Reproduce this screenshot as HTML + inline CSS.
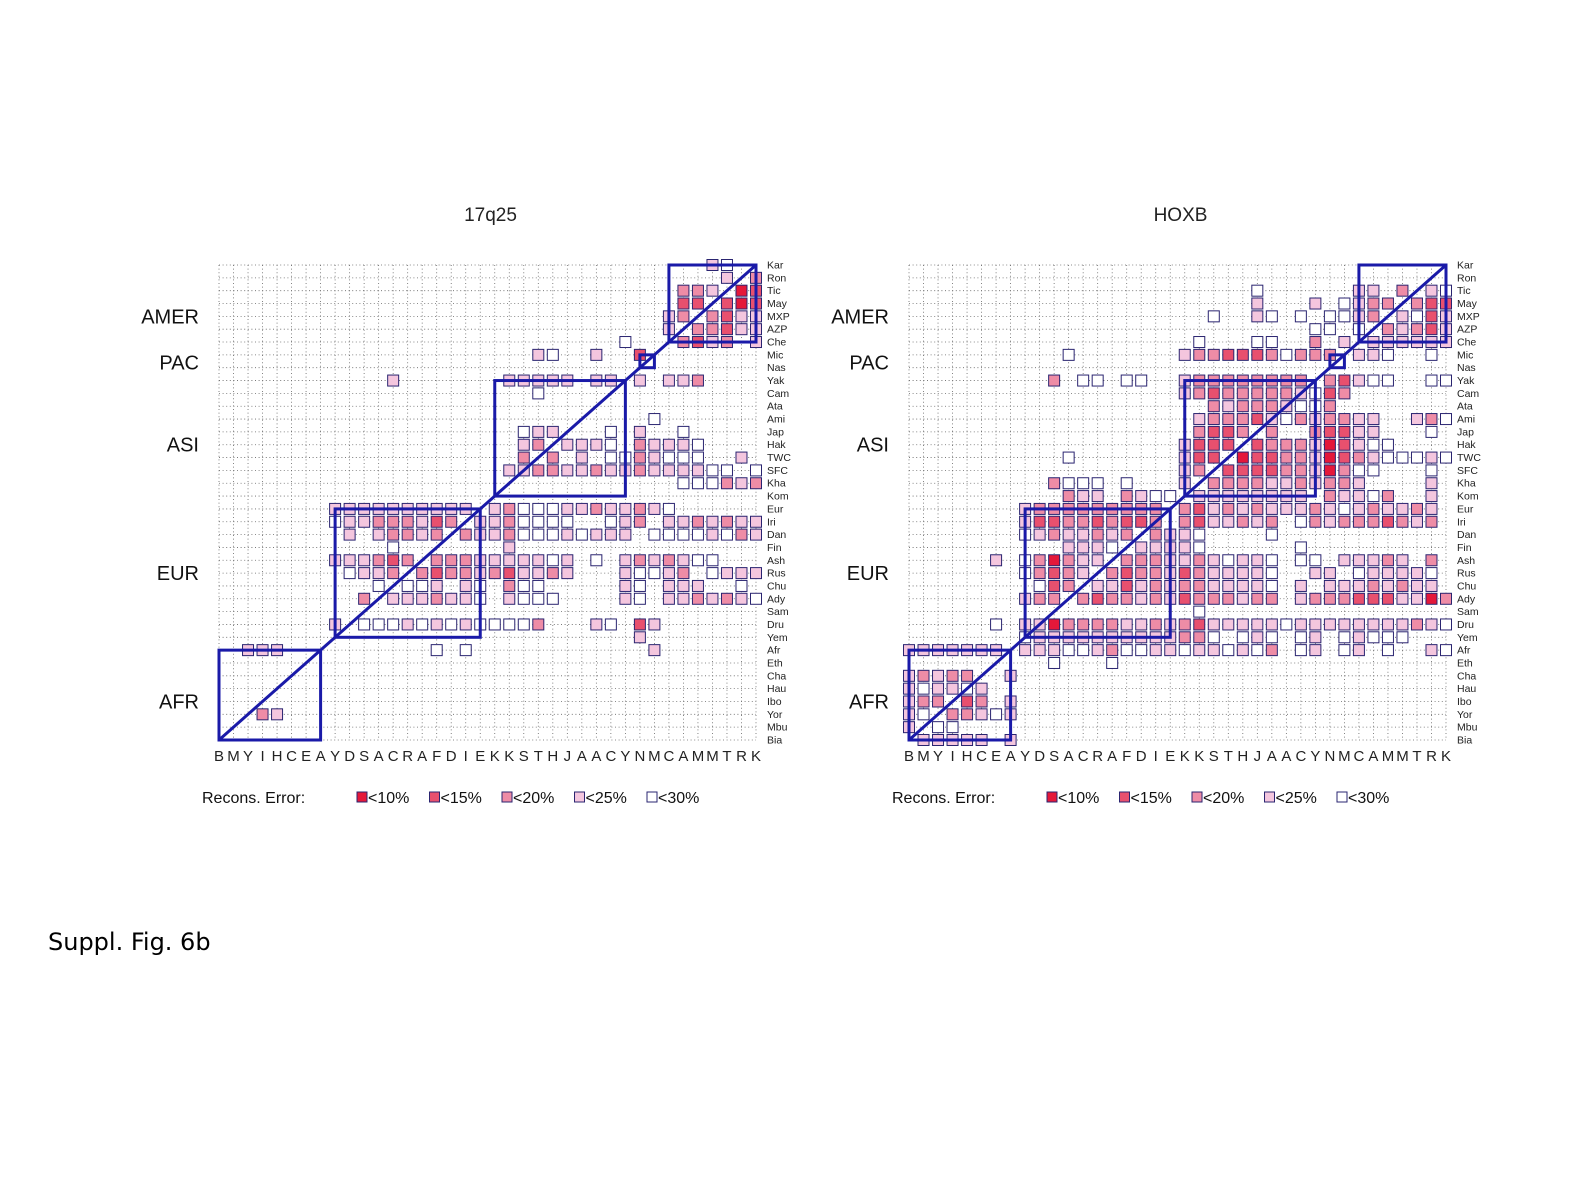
<!DOCTYPE html>
<html><head><meta charset="utf-8">
<style>
body{margin:0;background:#fff;}
svg{display:block;font-family:"Liberation Sans",sans-serif;}
</style></head>
<body>
<svg id="fig" width="1575" height="1200" viewBox="0 0 1575 1200">
<text x="48" y="950" font-size="24" font-family="DejaVu Sans, sans-serif">Suppl. Fig. 6b</text>
</svg>
<script>
const rowNames=["Kar","Ron","Tic","May","MXP","AZP","Che","Mic","Nas","Yak","Cam","Ata","Ami","Jap","Hak","TWC","SFC","Kha","Kom","Eur","Iri","Dan","Fin","Ash","Rus","Chu","Ady","Sam","Dru","Yem","Afr","Eth","Cha","Hau","Ibo","Yor","Mbu","Bia"];
const levelLabels=["<10%","<15%","<20%","<25%","<30%"];
const groups=[["AMER",31,37,0,6],["PAC",29,30,7,8],["ASI",19,28,9,18],["EUR",8,18,19,29],["AFR",0,7,30,37]];
const groupLabelRows=[4,7.6,14,24,34];
const titles=["17q25","HOXB"];
const leftData=[
"34:4 35:5","35:4 37:3","32:3 33:3 34:4 36:1 37:2","32:2 33:2 35:2 36:1 37:2",
"31:4 32:3 34:3 35:2 36:4 37:4","31:4 33:3 34:3 35:2 36:4 37:4","28:5 32:3 33:2 34:4 35:3 37:4",
"22:4 23:5 26:4 29:2","","12:4 20:4 21:4 22:4 23:4 24:4 26:4 27:4 29:4 31:4 32:4 33:3","22:5","","30:5",
"21:5 22:4 23:4 27:5 29:4 32:5",
"21:4 22:3 24:4 25:4 26:4 27:5 29:3 30:4 31:4 32:4 33:5",
"21:3 23:3 25:4 27:5 28:5 29:3 30:4 31:5 32:5 33:5 36:4",
"20:4 21:4 22:3 23:3 24:4 25:4 26:3 27:4 28:4 29:3 30:4 31:4 32:4 33:4 34:5 35:5 37:5",
"32:5 33:5 34:5 35:3 36:4 37:3","",
"8:4 9:4 10:4 11:4 12:4 13:4 14:4 15:4 16:4 17:4 19:4 20:3 21:5 22:5 23:5 24:4 25:4 26:3 27:4 28:4 29:3 30:4 31:5",
"8:5 9:4 10:4 11:3 12:3 13:3 14:4 15:2 16:3 18:4 19:4 20:3 21:5 22:5 23:5 24:5 27:5 28:4 29:3 31:4 32:4 33:3 34:4 35:3 36:4 37:4",
"9:4 11:4 12:3 13:3 14:4 15:3 17:3 18:4 19:4 20:3 21:5 22:5 23:5 24:4 25:5 26:4 27:4 28:4 30:5 31:5 32:5 33:5 34:4 35:5 36:3 37:4",
"12:5 20:4",
"8:4 9:4 10:4 11:3 12:2 13:3 15:3 16:3 17:3 18:4 19:4 20:4 21:4 22:4 23:5 24:4 26:5 28:4 29:3 30:4 31:3 32:4 33:5 34:5",
"9:5 10:4 11:4 12:3 14:3 15:2 16:3 17:3 18:4 19:3 20:2 21:4 22:4 23:3 24:4 28:4 29:5 30:5 31:4 32:3 34:5 35:4 36:4 37:4",
"11:5 13:5 14:5 15:4 17:4 18:5 20:3 21:5 22:5 28:4 29:5 31:4 32:4 33:4 36:5",
"10:3 12:4 13:4 14:4 15:3 16:4 17:4 18:5 20:4 21:5 22:5 23:5 28:4 29:5 31:4 32:4 33:3 34:4 35:3 36:4 37:5",
"",
"8:4 10:5 11:5 12:5 13:4 14:5 15:4 16:5 17:4 18:5 19:5 20:5 21:5 22:3 26:4 27:5 29:2 30:4",
"29:4","2:4 3:4 4:4 15:5 17:5 30:4","","","","","3:3 4:4","",""];
const rightData=[
"","","24:5 31:4 32:4 34:3 36:4 37:5",
"24:4 28:4 30:5 31:4 32:3 33:3 35:3 36:2 37:2",
"21:5 24:4 25:5 27:5 29:5 30:5 31:4 32:3 34:4 35:5 36:2 37:4",
"28:5 29:5 31:5 33:3 34:4 35:3 36:2 37:4",
"20:5 24:5 25:5 28:3 30:4 32:4 33:4 34:4 35:4 36:4 37:4",
"11:5 19:4 20:3 21:3 22:2 23:2 24:2 25:3 26:5 27:3 28:3 29:3 31:4 32:4 33:5 36:5",
"",
"10:3 12:5 13:5 15:5 16:5 19:4 20:3 21:3 22:3 23:3 24:3 25:3 26:3 27:3 29:3 30:2 31:4 32:5 33:5 36:5 37:5",
"19:4 20:3 21:2 22:3 23:3 24:3 25:3 26:3 27:4 28:5 29:2 30:3",
"21:3 22:4 23:3 24:3 25:3 26:4 27:5 28:5 29:3",
"20:4 21:3 22:3 23:3 24:2 25:4 26:5 27:3 28:4 29:3 30:3 31:4 32:4 35:4 36:3 37:5",
"20:3 21:2 22:2 23:3 25:3 28:3 29:2 30:2 31:4 32:4 36:5",
"19:4 20:2 21:2 22:2 24:2 25:3 26:3 27:3 28:4 29:1 30:2 31:4 32:5 33:5",
"11:5 19:4 20:2 21:2 23:1 24:2 25:2 26:3 27:3 28:4 29:1 30:2 31:3 32:4 33:5 34:5 35:5 36:4 37:5",
"19:4 20:3 22:2 23:2 24:2 25:2 26:3 27:3 28:4 29:1 30:3 31:5 32:5 36:5",
"10:3 11:5 12:5 13:5 15:5 19:4 21:3 22:3 23:3 24:3 25:4 26:4 27:3 28:4 29:3 30:3 31:4 36:4",
"11:3 12:4 13:4 15:3 16:4 17:5 18:5 20:4 21:4 22:4 23:4 24:4 25:4 26:4 27:4 29:3 30:4 31:4 32:5 33:3 36:4",
"8:4 9:3 10:3 11:3 12:3 13:3 14:3 15:3 16:3 17:3 19:3 20:2 21:4 22:3 23:4 24:3 25:4 26:4 27:4 28:3 29:4 30:5 31:4 32:3 33:4 34:4 35:3 36:4",
"8:4 9:2 10:2 11:3 12:3 13:2 14:3 15:2 16:2 17:3 19:3 20:2 21:4 22:4 23:3 24:4 25:3 27:5 28:3 29:4 30:3 31:3 32:3 33:2 34:3 35:4 36:3",
"8:5 9:4 10:3 11:4 12:4 13:3 14:4 15:3 17:3 18:4 19:4 20:5 25:5",
"11:4 12:4 13:4 14:5 16:4 17:4 18:4 19:4 20:5 27:5",
"6:4 8:5 9:3 10:1 11:3 12:4 13:4 15:3 16:3 17:3 18:4 19:4 20:3 21:4 22:5 23:4 24:4 25:5 27:5 28:5 30:4 31:4 32:4 33:3 34:4 36:3",
"8:5 9:3 10:2 11:3 12:4 14:3 15:2 16:3 17:3 18:4 19:2 20:3 21:4 22:4 23:4 24:4 25:5 28:4 29:4 31:5 32:4 33:4 34:4 35:4 36:5",
"9:5 10:2 11:3 13:4 14:4 15:2 16:4 17:3 18:4 19:3 20:3 21:4 22:4 23:4 24:4 25:5 27:4 29:4 30:4 31:4 32:3 33:4 34:3 35:4 36:4",
"8:4 9:3 10:3 12:3 13:2 14:3 15:3 16:4 17:3 18:4 19:2 20:3 21:3 22:3 23:4 24:3 25:3 27:4 28:3 29:3 30:3 31:2 32:2 33:2 34:4 35:4 36:1 37:3",
"20:5",
"6:5 8:4 9:4 10:1 11:3 12:3 13:3 14:3 15:4 16:4 17:3 18:4 19:3 20:2 21:4 22:4 23:4 24:4 25:4 26:5 27:4 28:4 29:4 30:4 31:4 32:4 33:4 34:4 35:3 36:4 37:5",
"8:5 9:4 10:4 11:4 12:4 13:4 14:4 15:4 16:4 17:4 18:4 19:3 20:3 21:5 23:5 24:4 25:5 27:5 28:4 30:5 31:4 32:5 33:5 34:5",
"0:4 1:4 2:4 3:4 4:4 5:4 6:4 8:4 9:4 10:4 11:5 12:5 13:4 14:3 15:5 16:5 17:4 18:4 19:5 20:4 21:4 22:5 23:4 24:5 25:3 27:5 28:4 30:5 31:4 33:5 36:4 37:5",
"10:5 14:5",
"0:4 1:3 2:4 3:3 4:3 7:4",
"0:4 1:5 2:4 3:4 4:5 5:4",
"0:4 1:3 2:3 4:2 5:3 7:4",
"0:4 1:5 3:3 4:3 5:4 6:5 7:4",
"0:4 2:5 3:5",
"1:4 2:4 3:4 4:4 5:4 7:4"];
const levelColors=["#e4183a","#e8506e","#ee8ca6","#f4c6de","#ffffff"];
const NS="http://www.w3.org/2000/svg";
const svg=document.getElementById('fig');
function mk(tag,attrs,parent){const e=document.createElementNS(NS,tag);for(const k in attrs)e.setAttribute(k,attrs[k]);(parent||svg).appendChild(e);return e;}
const N=rowNames.length;
const colLetters=rowNames.slice().reverse().map(s=>s[0]);
function panel(px0,data,title,pi){
  const g=mk('g',{});
  
  
  const W=537,H=475,y0=265;
  const xs=c=>px0+c*W/(N-1);
  const ys=r=>y0+r*H/(N-1);
  const t=mk('text',{x:px0+W/2+3,y:221,'font-size':19,'text-anchor':'middle',fill:'#222'},g);t.textContent=title;
  
  
  for(let i=0;i<N;i++){
    const hl=mk('line',{x1:xs(0),x2:xs(N-1),y1:ys(i),y2:ys(i),stroke:'#666','stroke-width':0.8,'stroke-dasharray':'1 2.6'},g);
    
    
    const vl=mk('line',{x1:xs(i),x2:xs(i),y1:ys(0),y2:ys(N-1),stroke:'#666','stroke-width':0.8,'stroke-dasharray':'1 2.6'},g);
    
    
    const rl=mk('text',{x:xs(N-1)+11,y:ys(i)+3.5,'font-size':10.5,fill:'#222'},g);rl.textContent=rowNames[i];
    
    
    const cl=mk('text',{x:xs(i),y:761,'font-size':15,'text-anchor':'middle',fill:'#222'},g);cl.textContent=colLetters[i];
    
    
  }
  data.forEach((s,r)=>{
    if(!s)return;
    s.split(' ').forEach(p=>{
      const [c,l]=p.split(':').map(Number);
      const sq=mk('rect',{x:xs(c)-5.5,y:ys(r)-5.5,width:11,height:11,fill:levelColors[l-1],stroke:'#2a2470','stroke-width':1},g);
      
      
    });
  });
  groups.forEach((gr,i)=>{
    const [name,c0,c1,r0,r1]=gr;
    const b=mk('rect',{x:xs(c0),y:ys(r0),width:xs(c1)-xs(c0),height:ys(r1)-ys(r0),fill:'none',stroke:'#1a1aa8','stroke-width':3},g);
    
    
    const gl=mk('text',{x:px0-20,y:ys(groupLabelRows[i])+7,'font-size':20,'text-anchor':'end',fill:'#111'},g);gl.textContent=name;
    
    
  });
  const d=mk('line',{x1:xs(0),y1:ys(N-1),x2:xs(N-1),y2:ys(0),stroke:'#1a1aa8','stroke-width':3},g);
  
  
  const lg=mk('g',{},g);
  
  
  const lt=mk('text',{x:px0-17,y:803,'font-size':16,fill:'#111'},lg);lt.textContent='Recons. Error:';
  
  
  levelLabels.forEach((lab,i)=>{
    const x=px0+138+i*72.5;
    const sw=mk('rect',{x:x,y:792,width:10,height:10,fill:levelColors[i],stroke:'#2a2470','stroke-width':1},lg);
    
    
    const tx=mk('text',{x:x+11,y:803,'font-size':16,fill:'#111'},lg);tx.textContent=lab;
    
    
  });
}
panel(219,leftData,titles[0],0);
panel(909,rightData,titles[1],1);
</script>
</body></html>
